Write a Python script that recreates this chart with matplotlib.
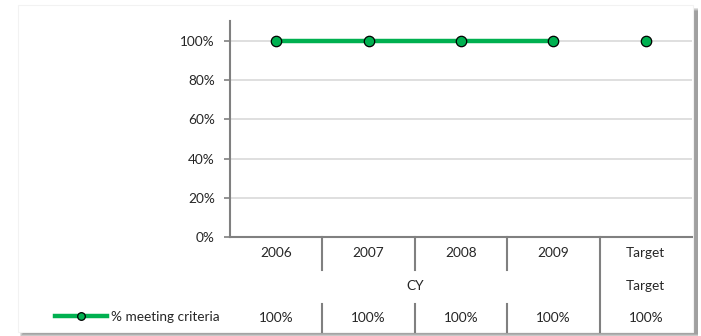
import matplotlib.pyplot as plt
from matplotlib.patches import Rectangle
from matplotlib.lines import Line2D

# data
categories = ['2006', '2007', '2008', '2009', 'Target']
groups = ['CY', 'Target']
pct_meeting = [1.0, 1.0, 1.0, 1.0, 1.0]
value_labels = ['100%', '100%', '100%', '100%', '100%']
y_ticks = [0, 0.2, 0.4, 0.6, 0.8, 1.0]

W, H = 701, 336
GREEN = '#00B050'
GRID = '#D9D9D9'
AXC = '#808080'
FS = 9.8

plt.rcParams['font.family'] = ['Lato', 'DejaVu Sans']
fig = plt.figure(figsize=(W / 100, H / 100), dpi=100)


def fx(px):
    return px / W


def fy(py):
    return 1 - py / H


# chart frame with soft shadow on right/bottom
for k, c in enumerate(['#E0E0E0', '#C8C8C8', '#B0B0B0', '#A0A0A0']):
    d = 4 - k
    fig.patches.append(Rectangle((fx(20 + k), fy(333 + d)), fx(674 + d), fy(8 + k) - fy(333 + d),
                                 transform=fig.transFigure, facecolor=c,
                                 edgecolor='none', zorder=-3))
fig.patches.append(Rectangle((fx(18), fy(332)), fx(675), fy(5) - fy(332),
                             transform=fig.transFigure, facecolor='white',
                             edgecolor='#F2F2F2', lw=0.8, zorder=-1))

ax = fig.add_axes([fx(230), fy(237), fx(692) - fx(230), fy(21) - fy(237)])
ax.set_zorder(2)
ax.patch.set_alpha(0)

x = list(range(len(categories)))
n_cy = 4
ax.plot(x[:n_cy], pct_meeting[:n_cy], color=GREEN, lw=3.2, zorder=3,
        solid_capstyle='butt')
ax.plot(x, pct_meeting, linestyle='none', marker='o', markersize=7.5,
        markerfacecolor=GREEN, markeredgecolor='black', markeredgewidth=0.9,
        zorder=4)

ax.set_xlim(-0.5, len(categories) - 0.5)
ax.set_ylim(0, 1.102)
ax.set_yticks(y_ticks)
ax.set_yticklabels([f'{int(round(t * 100))}%' for t in y_ticks])
ax.yaxis.grid(True, color=GRID, lw=1.2)
ax.set_axisbelow(True)
ax.set_xticks([])
ax.tick_params(axis='y', length=4, width=1.2, color=AXC, labelsize=FS,
               labelcolor='#262626', pad=7)
for s in ['top', 'right']:
    ax.spines[s].set_visible(False)
for s in ['left', 'bottom']:
    ax.spines[s].set_color(AXC)
    ax.spines[s].set_linewidth(1.5)

# table under the axis
unit = 196.0  # px per 1.0 on y


def ty(py):
    return (237 - py) / unit


tkw = dict(ha='center', va='center', fontsize=FS, color='#262626', clip_on=False)
for i, c in enumerate(categories):
    ax.text(i, ty(253), c, **tkw)
    ax.text(i, ty(318), value_labels[i], **tkw)
ax.text((n_cy - 1) / 2, ty(286), groups[0], **tkw)
ax.text(n_cy, ty(286), groups[1], **tkw)

lkw = dict(color=AXC, lw=1.5, clip_on=False)
for i in range(len(categories) - 1):
    xs = i + 0.5
    if i == n_cy - 1:
        ax.plot([xs, xs], [ty(237), ty(332)], **lkw)
    else:
        ax.plot([xs, xs], [ty(237), ty(270)], **lkw)
        ax.plot([xs, xs], [ty(304), ty(332)], **lkw)

# legend
handle = Line2D([], [], color=GREEN, lw=3.2, marker='o', markersize=5.5,
                markerfacecolor=GREEN, markeredgecolor='black',
                markeredgewidth=0.9)
fig.legend([handle], ['% meeting criteria'], loc='center left',
           bbox_to_anchor=(fx(55), fy(317)), frameon=False, fontsize=FS,
           handlelength=3.8, handletextpad=0.3, borderpad=0, borderaxespad=0,
           labelcolor='#262626')

fig.savefig('out.png', dpi=100)
